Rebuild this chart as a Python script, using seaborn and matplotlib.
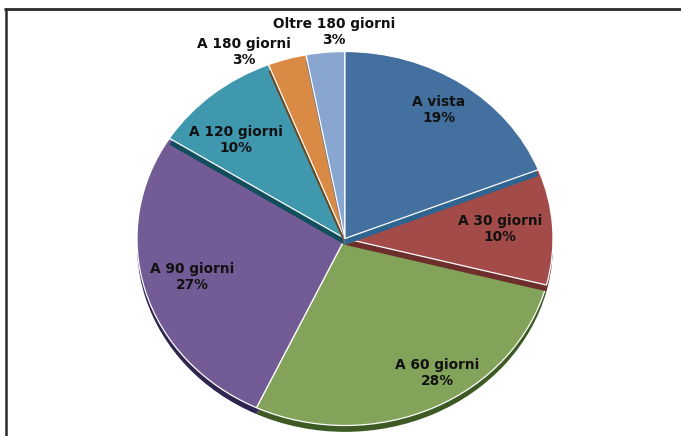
import matplotlib
matplotlib.use("Agg")
import matplotlib.pyplot as plt
from matplotlib.lines import Line2D
import seaborn as sns

labels = ["A vista", "A 30 giorni", "A 60 giorni", "A 90 giorni",
          "A 120 giorni", "A 180 giorni", "Oltre 180 giorni"]
values = [19, 10, 28, 27, 10, 3, 3]
colors = ["#44709f", "#a34b48", "#83a35a", "#735c95", "#3f98ae", "#d98a45", "#88a6cf"]
shadow = ["#2f6490", "#6e2e2c", "#3d5a24", "#2e2450", "#124e5c", "#6e4417", "#5a7296"]
layer = [6, 2, 1, 1, 3, 4, 5]

sns.set_theme(style="white")
W, H = 681, 436
fig = plt.figure(figsize=(W / 100, H / 100), dpi=100)
cx, cy, rx, ry = 345, 238.5, 208, 187
ax = fig.add_axes([(cx - rx) / W, 1 - (cy + ry) / H, 2 * rx / W, 2 * ry / H])
back, _ = ax.pie(values, colors=shadow, startangle=90, counterclock=False, radius=1,
                 center=(0.0, -0.034), wedgeprops=dict(linewidth=0))
front, _ = ax.pie(values, colors=colors, startangle=90, counterclock=False, radius=1,
                  wedgeprops=dict(edgecolor="white", linewidth=0.9))
for b, f, z in zip(back, front, layer):
    b.set_zorder(z * 2)
    f.set_zorder(z * 2 + 1)
ax.set_aspect("auto")
ax.set_xlim(-1, 1)
ax.set_ylim(-1, 1)
ax.axis("off")

pct = [f"{v}%" for v in values]
px = [439, 500, 437, 192, 236, 244, 334]
py = [110, 229, 373, 277, 140, 52, 32]
for name, p, x, y in zip(labels, pct, px, py):
    fig.text(x / W, 1 - y / H, f"{name}\n{p}", ha="center", va="center",
             fontsize=9.9, fontweight="bold", color="#111111", linespacing=1.2,
             family="DejaVu Sans")

edge = "#2a2a2a"
fig.add_artist(Line2D([6 / W, 6 / W], [0, 1 - 9 / H], color=edge, lw=1.8))
fig.add_artist(Line2D([5 / W, 1], [1 - 9 / H, 1 - 9 / H], color=edge, lw=2))
fig.savefig("out.png", dpi=100)
